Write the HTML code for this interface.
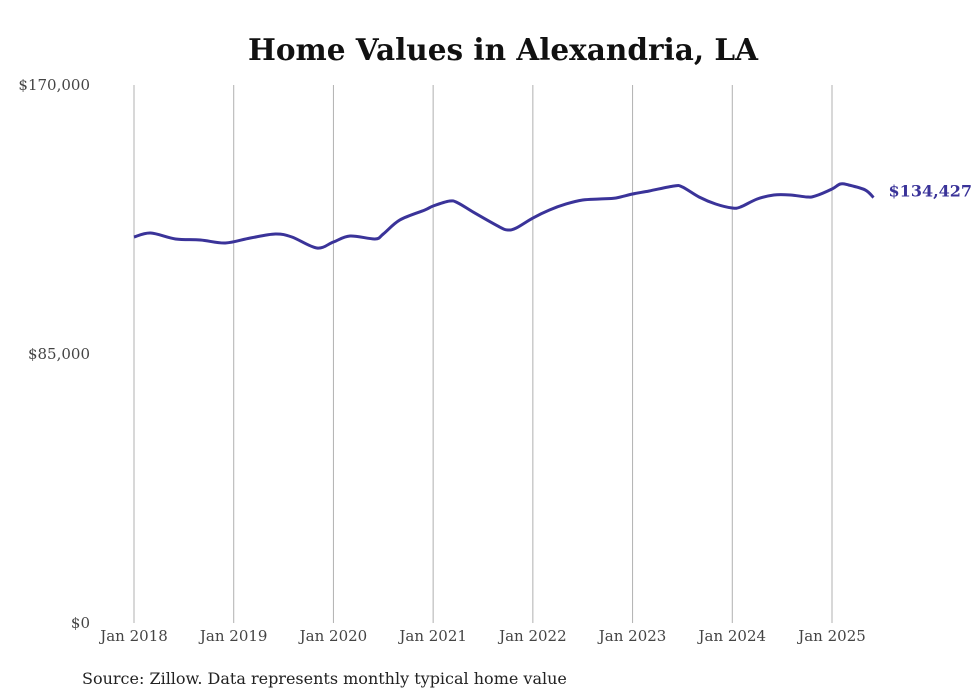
<!DOCTYPE html>
<html><head><meta charset="utf-8"><style>
body{margin:0;background:#fff;}
svg{display:block;font-family:"DejaVu Serif","Liberation Serif",serif;}
</style></head><body>
<svg id="chart" width="980" height="699" viewBox="0 0 980 699">
<text x="503" y="60" text-anchor="middle" font-size="29.5" font-weight="bold" fill="#111">Home Values in Alexandria, LA</text>
<g id="grid"></g><g id="yaxis"></g><g id="xaxis"></g><g id="series"></g>
<text x="82" y="684" font-size="16" fill="#222">Source: Zillow. Data represents monthly typical home value</text>
</svg>
<script>
const monthIdx=[0,2,5,8,11,14,17,19,22,24,26,29,30,32,35,36,38,39,41,44,45,46,48,50,52,54,56,58,60,62,65,66,68,70,72,73,75,77,79,81,82,84,85,86,88,89];
const values=[121970,123240,121350,121030,120080,121660,122920,121970,118500,120390,122290,121350,122920,127350,130500,131770,133350,132720,129560,125130,124180,124820,127970,130500,132400,133660,133980,134300,135560,136510,138090,137770,134610,132400,131140,131460,133980,135250,135250,134610,134930,137140,138720,138400,136830,134427];
const xLabels=["Jan 2018","Jan 2019","Jan 2020","Jan 2021","Jan 2022","Jan 2023","Jan 2024","Jan 2025"];
const yTicks=[0,85000,170000];
const yTickLabels=["$0","$85,000","$170,000"];
const lastLabel="$134,427";
const NS="http://www.w3.org/2000/svg";
const x=m=>134+m*(698/84);
const y=v=>623-v/170000*538;
function mk(t,a,p){const e=document.createElementNS(NS,t);for(const k in a)e.setAttribute(k,a[k]);p.appendChild(e);return e;}
const grid=document.getElementById('grid'),ya=document.getElementById('yaxis'),xa=document.getElementById('xaxis'),se=document.getElementById('series');
xLabels.forEach((l,i)=>{const xx=x(i*12);
const g=mk('line',{x1:xx,x2:xx,y1:85,y2:623,stroke:'#b0b0b0','stroke-width':1},grid);


const t=mk('text',{x:xx,y:641,'text-anchor':'middle','font-size':15,fill:'#444'},xa);t.textContent=l;

});
yTicks.forEach((v,i)=>{const t=mk('text',{x:90,y:y(v)+5,'text-anchor':'end','font-size':15,fill:'#444'},ya);t.textContent=yTickLabels[i];

});
const pts=monthIdx.map((m,i)=>[x(m),y(values[i])]);
let d=`M${pts[0][0]},${pts[0][1]}`;
for(let i=0;i<pts.length-1;i++){const p0=pts[i-1]||pts[i],p1=pts[i],p2=pts[i+1],p3=pts[i+2]||p2;
d+=` C${p1[0]+(p2[0]-p0[0])/6},${p1[1]+(p2[1]-p0[1])/6} ${p2[0]-(p3[0]-p1[0])/6},${p2[1]-(p3[1]-p1[1])/6} ${p2[0]},${p2[1]}`;}
const line=mk('path',{d:d,fill:'none',stroke:'#3a3399','stroke-width':3,'stroke-linejoin':'round'},se);


const lp=pts[pts.length-1];
const lt=mk('text',{x:lp[0]+15,y:lp[1]-1,'font-size':16,'font-weight':'bold',fill:'#3a3399'},se);lt.textContent=lastLabel;


</script>
</body></html>
